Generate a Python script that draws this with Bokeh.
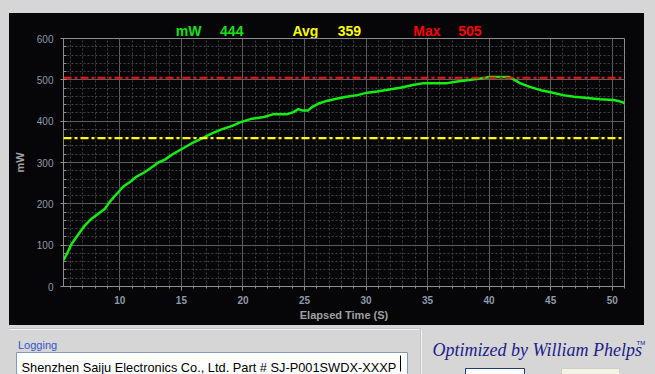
from bokeh.plotting import figure
from bokeh.models import Range1d, SingleIntervalTicker, Span, Spacer
from bokeh.layouts import column, row
from bokeh.core.properties import value
from bokeh.embed import file_html
from bokeh.resources import INLINE

# ---------------- data ----------------
TIME_S = [5.42, 5.75, 6.07, 6.62, 7.16, 7.70, 8.25, 8.79, 9.06, 9.47, 9.87, 10.28,
          10.82, 11.36, 12.04, 12.71, 13.12, 13.66, 14.34, 15.0, 15.82, 16.63, 17.44,
          18.26, 19.07, 19.77, 20.6, 21.7, 22.5, 23.6, 24.1, 24.5, 24.8, 25.3, 25.6,
          26.1, 26.8, 27.6, 28.4, 29.3, 30.1, 30.9, 32.0, 32.8, 33.9, 34.7, 36.6,
          37.4, 38.2, 39.0, 39.7, 40.0, 41.6, 42.0, 42.5, 43.3, 44.2, 45.0, 46.0,
          46.9, 48.0, 49.0, 50.1, 50.6, 51.0]
POWER_MW = [64, 82, 103, 126, 148, 164, 176, 188, 200, 215, 228, 242,
            253, 266, 277, 291, 300, 307, 321, 332, 346, 358, 370,
            380, 388, 397, 405, 410, 417, 417, 422, 429, 426, 426, 434,
            442, 449, 454, 459, 463, 469, 472, 477, 481, 488, 492, 492,
            496, 499, 502, 505, 507, 507, 501, 492, 483, 475, 470, 463,
            459, 456, 453, 451, 448, 444]
CURRENT_MW = 444
AVG_MW = 359
MAX_MW = 505
HEADER_TEXTS = ["mW", str(CURRENT_MW), "Avg", str(AVG_MW), "Max", str(MAX_MW)]
X_LABEL = "Elapsed Time (S)"
Y_LABEL = "mW"
LOGGING_LABEL = "Logging"
LOG_TEXT = "Shenzhen Saiju Electronics Co., Ltd. Part # SJ-P001SWDX-XXXP"
CREDIT = "Optimized by William Phelps"
TM = "TM"

# ---------------- styles ----------------
BG = "#060609"
PAGE = "#d6d6d6"
AX = "#8c8c8c"
GRID_MAJOR = "#5c5c5c"
GRID_MINOR = "#404040"
TICK_LABEL = "#8e9aa8"
AXIS_LABEL = "#a0a0a0"
GREEN = "#12ee12"
HEADER_COLORS = ["#18e018", "#18e018", "#ffff00", "#ffff00", "#ff0000", "#ff0000"]
HEADER_POS = [14.55, 18.14, 24.02, 27.70, 33.84, 37.49]
FONT = "Liberation Sans"
OVERLAP = 7

x_range = Range1d(min(TIME_S), max(TIME_S))

# header strip (shares the x scale of the chart)
p0 = figure(width=635, height=25, x_range=x_range, y_range=Range1d(25, 0),
            output_backend="svg", toolbar_location=None,
            x_axis_type=None, y_axis_type=None,
            min_border_left=54, min_border_right=20, min_border_top=0, min_border_bottom=0,
            background_fill_color=BG, border_fill_color=BG, outline_line_color=None)
p0.text(x=HEADER_POS, y=[17.8] * len(HEADER_TEXTS), text=HEADER_TEXTS,
        text_color=HEADER_COLORS, text_font=value(FONT), text_font_size="14px",
        text_font_style="bold", text_baseline="alphabetic")

p = figure(width=635, height=287 + OVERLAP, x_range=x_range, y_range=Range1d(0, 600),
           output_backend="svg", toolbar_location=None,
           background_fill_color=BG, border_fill_color=BG, border_fill_alpha=0,
           min_border_left=54, min_border_right=20, min_border_top=OVERLAP, min_border_bottom=39,
           outline_line_color=AX, margin=(-OVERLAP, 0, 0, 0))

xticker = SingleIntervalTicker(interval=5, num_minor_ticks=5)
yticker = SingleIntervalTicker(interval=100, num_minor_ticks=5)

xa = p.xaxis[0]
xa.ticker = xticker
xa.axis_label = X_LABEL
xa.axis_label_text_font = FONT
xa.axis_label_text_font_size = "11px"
xa.axis_label_text_font_style = "bold"
xa.axis_label_text_color = AXIS_LABEL
xa.axis_label_standoff = 2
xa.major_label_text_font = FONT
xa.major_label_text_font_size = "10px"
xa.major_label_text_font_style = "bold"
xa.major_label_text_color = TICK_LABEL
xa.major_label_standoff = 5
xa.axis_line_color = AX
xa.major_tick_line_color = AX
xa.minor_tick_line_color = AX
xa.major_tick_out = 4
xa.major_tick_in = 0
xa.minor_tick_out = 2
xa.minor_tick_in = 0

ya = p.yaxis[0]
ya.ticker = yticker
ya.axis_label = Y_LABEL
ya.axis_label_text_font = FONT
ya.axis_label_text_font_size = "11px"
ya.axis_label_text_font_style = "bold"
ya.axis_label_text_color = AXIS_LABEL
ya.axis_label_standoff = 8
ya.major_label_text_font = FONT
ya.major_label_text_font_size = "10px"
ya.major_label_text_color = TICK_LABEL
ya.major_label_standoff = 7
ya.axis_line_color = AX
ya.major_tick_line_color = AX
ya.minor_tick_line_color = AX
ya.major_tick_out = 3
ya.major_tick_in = 0
ya.minor_tick_out = 0
ya.minor_tick_in = 3

for g in (p.xgrid[0], p.ygrid[0]):
    g.grid_line_color = GRID_MAJOR
    g.grid_line_width = 1
    g.minor_grid_line_color = GRID_MINOR
    g.minor_grid_line_dash = "2 2"

p.add_layout(Span(location=MAX_MW, dimension="width", line_color="#ff1010",
                  line_width=2.2, line_dash="8 3 3 3"))
p.add_layout(Span(location=AVG_MW, dimension="width", line_color="#ffff00",
                  line_width=2.2, line_dash="8 3 3 3"))

p.line(TIME_S, POWER_MW, line_color=GREEN, line_width=2.5, line_join="round")

# ---------------- bottom panel (screen-like coordinates) ----------------
p2 = figure(width=655, height=49, x_range=Range1d(0, 655), y_range=Range1d(49, 0),
            output_backend="svg", toolbar_location=None, min_border=0,
            x_axis_type=None, y_axis_type=None,
            background_fill_color=PAGE, border_fill_color=PAGE, outline_line_color=None)

p2.segment(x0=[8, 420], y0=[3, 3], x1=[420, 420], y1=[3, 49], line_color="#c4c4c4", line_width=1)
p2.segment(x0=[9, 421], y0=[4, 4], x1=[419, 421], y1=[4, 49], line_color="#f2f2f2", line_width=1)
p2.text(x=[17.5], y=[19], text=[LOGGING_LABEL], text_color="#3355cc",
        text_font=value(FONT), text_font_size="11px", text_baseline="alphabetic")
p2.quad(left=[16], right=[407], top=[27], bottom=[55], fill_color="white",
        line_color="#7f9db9", line_width=1)
p2.text(x=[21], y=[41.5], text=[LOG_TEXT], text_color="black",
        text_font=value(FONT), text_font_size="12.8px", text_baseline="alphabetic")
p2.segment(x0=[400], y0=[30], x1=[400], y1=[46], line_color="black", line_width=1)
p2.text(x=[432], y=[24], text=[CREDIT], text_color="#20208a",
        text_font=value("Liberation Serif"), text_font_style="italic",
        text_font_size="18px", text_baseline="alphabetic")
p2.text(x=[636], y=[17], text=[TM], text_color="#20208a",
        text_font=value(FONT), text_font_size="6px", text_baseline="alphabetic")
p2.quad(left=[465, 561], right=[524, 619], top=[43, 43], bottom=[55, 55],
        fill_color=["#fdfdfd", "#f3f3e8"], line_color=["#1f3d6e", "#cfcfbf"], line_width=1)

chart = column(p0, p, styles={"background-color": BG})

layout = column(Spacer(width=655, height=13, styles={"background-color": PAGE}),
                row(Spacer(width=9, height=312, styles={"background-color": PAGE}),
                    chart,
                    Spacer(width=11, height=312, styles={"background-color": PAGE})),
                p2,
                styles={"background-color": PAGE})

open("out.html", "w").write(file_html(layout, INLINE))
